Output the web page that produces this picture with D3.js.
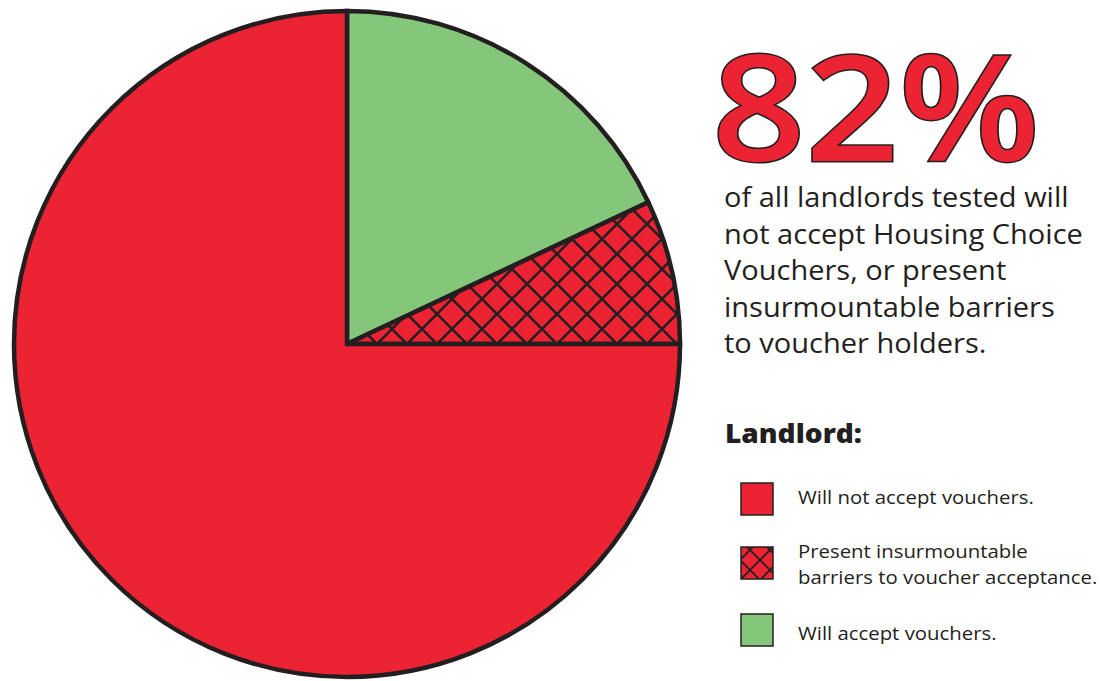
<!DOCTYPE html>
<html>
<head>
<meta charset="utf-8">
<script src="https://cdn.jsdelivr.net/npm/d3@7"></script>
<style>
  body { margin: 0; background: #fff; }
  svg { display: block; }
</style>
</head>
<body>
<svg id="chart"></svg>
<script>
// legend order
const categories = ["Will not accept vouchers.", "Present insurmountable barriers to voucher acceptance.", "Will accept vouchers."];
const legendLines = [["Will not accept vouchers."], ["Present insurmountable", "barriers to voucher acceptance."], ["Will accept vouchers."]];
const shares = [75, 7, 18];
const headline = "82%";
const bodyLines = [
  "of all landlords tested will",
  "not accept Housing Choice",
  "Vouchers, or present",
  "insurmountable barriers",
  "to voucher holders."
];
const legendTitle = "Landlord:";

const WIDTH = 1100, HEIGHT = 681;
const RED = "#ec2332", GREEN = "#85c77a", INK = "#231f20";

const svg = d3.select("#chart").attr("width", WIDTH).attr("height", HEIGHT);

// cross hatch patterns
function addHatch(id, size, width) {
  const p = svg.append("defs").append("pattern")
    .attr("id", id)
    .attr("patternUnits", "userSpaceOnUse")
    .attr("width", size).attr("height", size);
  p.append("rect").attr("width", size).attr("height", size).attr("fill", RED);
  p.append("path")
    .attr("d", `M0,0L${size},${size}M${size},0L0,${size}` +
      `M${-size/2},${size/2}L${size/2},${-size/2}M${size/2},${size*1.5}L${size*1.5},${size/2}` +
      `M${-size/2},${size/2}L${size/2},${size*1.5}M${size/2},${-size/2}L${size*1.5},${size/2}`)
    .attr("stroke", INK).attr("stroke-width", width);
}
addHatch("hatch", 30, 2.6);
addHatch("hatchSmall", 20, 1.8);

const fills = [RED, "url(#hatch)", GREEN];
const legendFills = [RED, "url(#hatchSmall)", GREEN];

// pie: green from 12 o'clock, then hatched, then red
const order = [2, 1, 0];
const pie = d3.pie().sort(null).value(i => shares[i]);
const arc = d3.arc().innerRadius(0).outerRadius(333);

const g = svg.append("g").attr("transform", "translate(347,344)");
g.selectAll("path")
  .data(pie(order))
  .enter()
  .append("path")
  .attr("d", arc)
  .attr("fill", d => fills[d.data])
  .attr("stroke", INK)
  .attr("stroke-width", 4.5)
  .attr("stroke-linejoin", "miter");

// headline
svg.append("text")
  .attr("x", 712).attr("y", 161)
  .attr("font-family", "Open Sans")
  .attr("font-weight", 600)
  .attr("font-size", 146)
  .attr("textLength", 328)
  .attr("lengthAdjust", "spacingAndGlyphs")
  .attr("fill", RED)
  .attr("stroke", INK)
  .attr("stroke-width", 3)
  .attr("paint-order", "stroke")
  .text(headline);

// body text, stretched a little to match the wider original face
svg.append("g")
  .attr("transform", "translate(724,0) scale(1.075,1)")
  .selectAll("text")
  .data(bodyLines)
  .enter()
  .append("text")
  .attr("x", 0)
  .attr("y", (d, i) => 207 + i * 36.6)
  .attr("font-family", "Open Sans")
  .attr("font-size", 27)
  .attr("fill", INK)
  .text(d => d);

// legend
svg.append("text")
  .attr("transform", "translate(725,443) scale(1.08,1)")
  .attr("font-family", "Open Sans")
  .attr("font-weight", 800)
  .attr("font-size", 26)
  .attr("fill", INK)
  .text(legendTitle);

const boxY = [483, 547, 614];
const legend = svg.append("g");
legend.selectAll("rect")
  .data(categories)
  .enter()
  .append("rect")
  .attr("x", 741)
  .attr("y", (d, i) => boxY[i])
  .attr("width", 32).attr("height", 32)
  .attr("fill", (d, i) => legendFills[i])
  .attr("stroke", INK)
  .attr("stroke-width", 1.5);

const labelY = [[504], [558, 584], [640]];
legendLines.forEach((lines, i) => {
  lines.forEach((t, j) => {
    legend.append("text")
      .attr("transform", `translate(798,${labelY[i][j]}) scale(1.1,1)`)
      .attr("font-family", "Open Sans")
      .attr("font-size", 18.5)
      .attr("fill", INK)
      .text(t);
  });
});
</script>
</body>
</html>
